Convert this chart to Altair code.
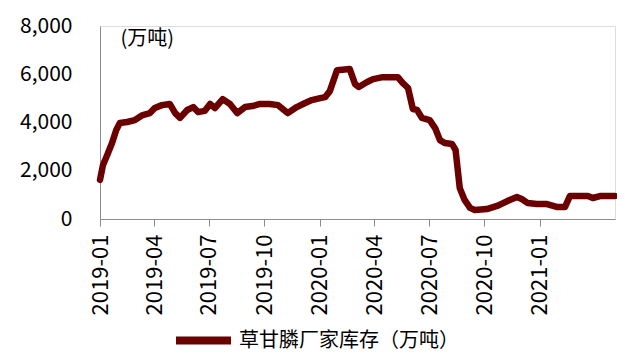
import altair as alt
import pandas as pd

SERIES = "草甘膦厂家库存（万吨）"
UNIT = "(万吨)"

dates = ["2019-01-01","2019-01-06","2019-01-13","2019-01-21","2019-01-28","2019-02-03","2019-02-15","2019-02-28",
         "2019-03-13","2019-03-25","2019-04-02","2019-04-14","2019-04-27","2019-05-06","2019-05-14","2019-05-26",
         "2019-06-05","2019-06-13","2019-06-24","2019-07-03","2019-07-11","2019-07-24","2019-08-05","2019-08-17",
         "2019-08-30","2019-09-11","2019-09-24","2019-10-10","2019-10-24","2019-11-09","2019-11-24","2019-12-08",
         "2019-12-19","2020-01-02","2020-01-10","2020-01-18","2020-01-30","2020-02-20","2020-02-29","2020-03-06",
         "2020-03-20","2020-03-30","2020-04-15","2020-05-10","2020-05-18","2020-05-27","2020-06-04","2020-06-11",
         "2020-06-19","2020-07-02","2020-07-11","2020-07-19","2020-07-27","2020-08-08","2020-08-14","2020-08-21",
         "2020-08-29","2020-09-07","2020-09-15","2020-10-05","2020-10-22","2020-11-01","2020-11-12","2020-11-24",
         "2020-12-02","2020-12-12","2020-12-27","2021-01-13","2021-01-29","2021-02-12","2021-02-20","2021-03-08",
         "2021-03-22","2021-03-30","2021-04-11","2021-05-06"]

values = [1620, 2240, 2650, 3150, 3690, 3980, 4020, 4100,
          4310, 4390, 4600, 4720, 4770, 4390, 4190, 4520,
          4640, 4430, 4480, 4770, 4600, 4970, 4770, 4390,
          4640, 4680, 4770, 4770, 4720, 4390, 4640, 4810,
          4930, 5010, 5050, 5300, 6170, 6220, 5590, 5470,
          5680, 5800, 5880, 5880, 5640, 5430, 4560, 4520,
          4190, 4100, 3770, 3270, 3150, 3110, 2860, 1280,
          790, 460, 370, 410, 540, 660, 790, 910,
          830, 660, 620, 620, 500, 500, 950, 950,
          950, 870, 950, 950]

y_ticks = [0, 2000, 4000, 6000, 8000]
x_ticks = [(2019, 1), (2019, 4), (2019, 7), (2019, 10), (2020, 1),
           (2020, 4), (2020, 7), (2020, 10), (2021, 1)]

df = pd.DataFrame({"date": dates, "value": values, "series": [SERIES] * len(dates)})

FONT = "Noto Sans CJK SC"
GRAY = "#8c8c8c"
RED = "#6B0000"

chart = alt.Chart(df).mark_line(strokeWidth=6.5, strokeJoin="round", strokeCap="round").encode(
    x=alt.X("date:T",
            scale=alt.Scale(type="utc", nice=False,
                            domain=[alt.DateTime(year=2019, month=1, date=1, utc=True),
                                    alt.DateTime(year=2021, month=5, date=6, utc=True)]),
            axis=alt.Axis(title=None,
                          values=[alt.DateTime(year=y, month=m, date=1, utc=True) for y, m in x_ticks],
                          labelExpr="utcFormat(datum.value, '%Y-%m')",
                          labelAngle=270, labelFontSize=22, labelColor="black", labelPadding=8,
                          tickSize=7, tickColor=GRAY, domainColor=GRAY, grid=False,
                          labelFont=FONT)),
    y=alt.Y("value:Q",
            scale=alt.Scale(domain=[0, 8000], nice=False),
            axis=alt.Axis(values=y_ticks, format=",.0f", ticks=False, grid=False,
                          labelPadding=28, labelFontSize=21, labelColor="black", labelFont=FONT,
                          domainColor=GRAY,
                          title=UNIT, titleAngle=0, titleX=20, titleY=12, titleAlign="left",
                          titleBaseline="middle", titleFontSize=20, titleFontWeight="normal",
                          titleColor="black", titleFont=FONT)),
    color=alt.Color("series:N",
                    scale=alt.Scale(domain=[SERIES], range=[RED]),
                    legend=alt.Legend(title=None, orient="none", legendX=72, legendY=283,
                                      symbolType="stroke", symbolSize=3025, symbolStrokeWidth=8,
                                      labelFontSize=20, labelOffset=4, labelFont=FONT,
                                      labelColor="black", labelLimit=400)),
).properties(
    width=515, height=193, autosize="none",
    padding={"left": 92, "top": 18, "right": 2, "bottom": 134},
).configure_view(stroke=None).configure(font=FONT)

chart.save("out.html", embed_options={"renderer": "svg", "actions": False})
